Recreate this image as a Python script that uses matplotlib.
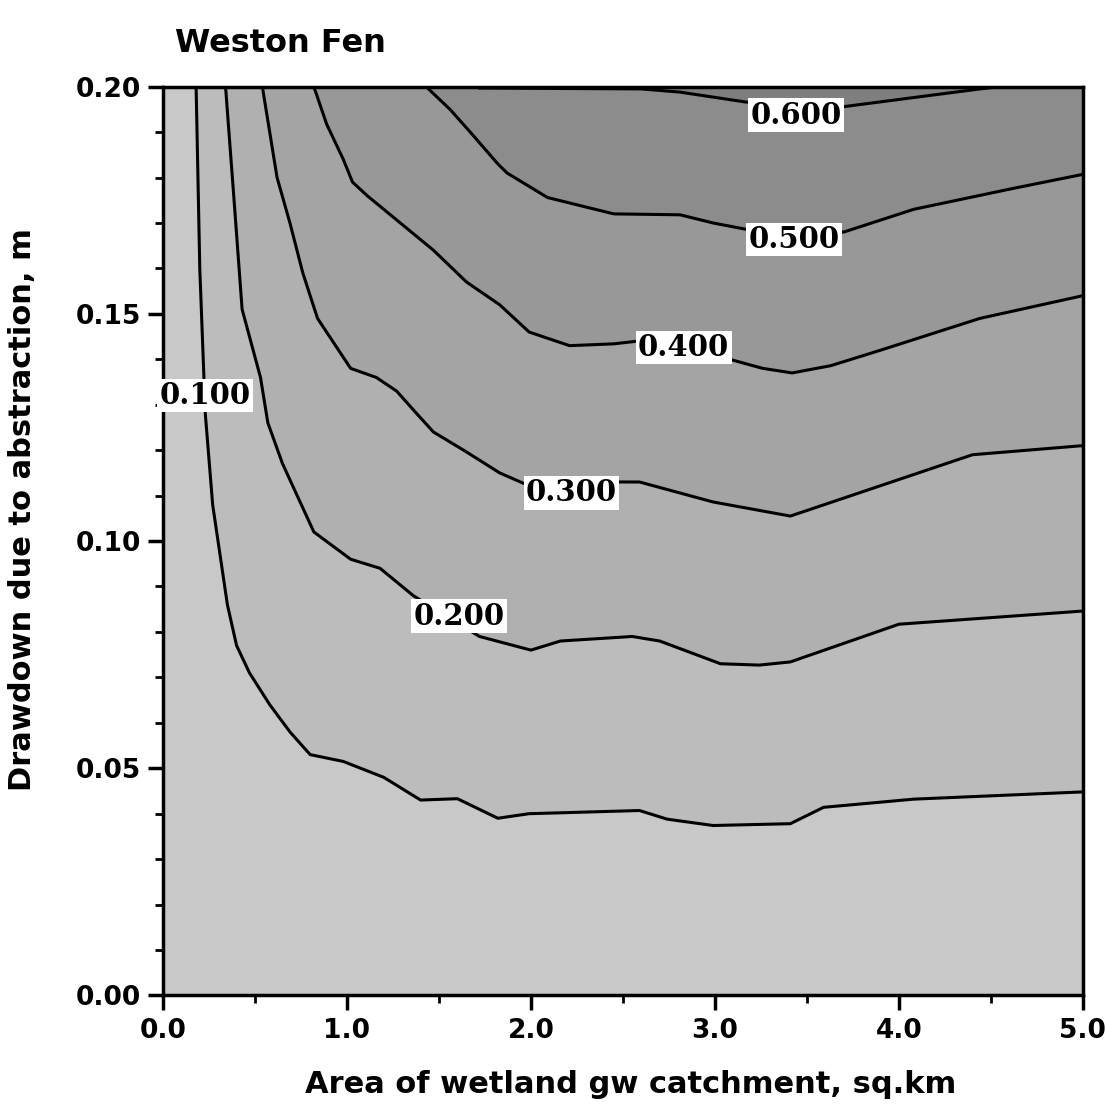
import matplotlib.pyplot as plt
from matplotlib.ticker import MultipleLocator, FormatStrFormatter

# contour levels and their labels
levels = [0.1, 0.2, 0.3, 0.4, 0.5, 0.6]
level_text = ['0.100', '0.200', '0.300', '0.400', '0.500', '0.600']

# contour lines (area sq.km, drawdown m)
c100_x = [0.18, 0.20, 0.23, 0.27, 0.35, 0.40, 0.47, 0.58, 0.69, 0.80, 0.98, 1.20, 1.40, 1.60,
          1.82, 1.99, 2.59, 2.74, 2.99, 3.41, 3.59, 4.08, 5.0]
c100_y = [0.200, 0.160, 0.128, 0.108, 0.086, 0.077, 0.071, 0.064, 0.058, 0.053, 0.0515, 0.048,
          0.043, 0.0433, 0.039, 0.040, 0.0407, 0.0388, 0.0374, 0.0378, 0.0414, 0.0432, 0.0448]

c200_x = [0.34, 0.39, 0.43, 0.53, 0.57, 0.65, 0.82, 1.02, 1.18, 1.36, 1.72, 2.0, 2.16, 2.55,
          2.70, 3.03, 3.24, 3.41, 4.0, 5.0]
c200_y = [0.200, 0.173, 0.151, 0.136, 0.126, 0.117, 0.102, 0.096, 0.094, 0.088, 0.079, 0.076,
          0.078, 0.079, 0.078, 0.073, 0.0727, 0.0734, 0.0817, 0.0846]

c300_x = [0.54, 0.62, 0.69, 0.76, 0.84, 1.02, 1.16, 1.27, 1.38, 1.47, 1.65, 1.83, 1.96, 2.47,
          2.59, 2.99, 3.41, 4.40, 5.0]
c300_y = [0.200, 0.180, 0.170, 0.159, 0.149, 0.138, 0.136, 0.133, 0.128, 0.124, 0.1196, 0.115,
          0.1127, 0.113, 0.113, 0.1086, 0.1055, 0.119, 0.121]

c400_x = [0.82, 0.89, 0.98, 1.03, 1.11, 1.29, 1.47, 1.65, 1.83, 1.99, 2.21, 2.45, 2.58, 3.08,
          3.26, 3.42, 3.63, 3.90, 4.44, 5.0]
c400_y = [0.200, 0.1917, 0.184, 0.179, 0.176, 0.170, 0.164, 0.157, 0.152, 0.146, 0.143, 0.1434,
          0.144, 0.140, 0.138, 0.137, 0.1386, 0.142, 0.149, 0.154]

c500_x = [1.43, 1.56, 1.67, 1.82, 1.87, 2.09, 2.45, 2.81, 2.99, 3.17, 3.70, 4.08, 4.62, 5.0]
c500_y = [0.200, 0.195, 0.190, 0.183, 0.181, 0.1756, 0.172, 0.1718, 0.170, 0.1686, 0.168,
          0.173, 0.1776, 0.1807]

c600_x = [1.72, 2.60, 2.81, 2.99, 3.17, 3.70, 4.08, 4.44, 4.55]
c600_y = [0.1997, 0.1995, 0.1988, 0.1977, 0.1966, 0.1956, 0.1976, 0.1995, 0.200]

# where the inline labels sit
label_x = [0.23, 1.61, 2.22, 2.83, 3.43, 3.44]
label_y = [0.132, 0.0835, 0.1106, 0.1426, 0.1664, 0.1937]

lines_x = [c100_x, c200_x, c300_x, c400_x, c500_x, c600_x]
lines_y = [c100_y, c200_y, c300_y, c400_y, c500_y, c600_y]

# stippled bands, approximated with flat greys (lightest = below 0.1)
band_colors = ['#c8c8c8', '#bcbcbc', '#b0b0b0', '#a4a4a4', '#989898', '#8c8c8c', '#7f7f7f']

plt.rcParams['font.family'] = 'DejaVu Sans'
plt.rcParams['font.weight'] = 'bold'

fig = plt.figure(figsize=(11.05, 11.11), dpi=100)
ax = fig.add_axes([0.1475, 0.104, 0.8325, 0.818])
ax.set_xlim(0, 5.0)
ax.set_ylim(0, 0.2)
ax.set_facecolor(band_colors[0])

# fill the region above/right of each contour, darker as level rises
for xs, ys, col in zip(lines_x, lines_y, band_colors[1:]):
    ax.fill(list(xs) + [5.0], list(ys) + [0.2], color=col, lw=0, zorder=1)

for xs, ys in zip(lines_x, lines_y):
    ax.plot(xs, ys, color='black', lw=2.2, zorder=2, solid_joinstyle='round')

for lx, ly, txt in zip(label_x, label_y, level_text):
    ax.text(lx, ly, txt, ha='center', va='center', fontsize=21, fontweight='bold',
            family='DejaVu Serif', zorder=5, clip_on=False,
            bbox=dict(boxstyle='square,pad=0.08', fc='white', ec='none'))

for s in ax.spines.values():
    s.set_linewidth(2.5)

ax.xaxis.set_major_locator(MultipleLocator(1.0))
ax.xaxis.set_minor_locator(MultipleLocator(0.5))
ax.yaxis.set_major_locator(MultipleLocator(0.05))
ax.yaxis.set_minor_locator(MultipleLocator(0.01))
ax.xaxis.set_major_formatter(FormatStrFormatter('%.1f'))
ax.yaxis.set_major_formatter(FormatStrFormatter('%.2f'))
ax.tick_params(which='major', direction='out', length=11, width=2.5, labelsize=19, pad=5)
ax.tick_params(which='minor', direction='out', length=6, width=2.0)
for t in ax.get_xticklabels() + ax.get_yticklabels():
    t.set_fontweight('bold')

fig.text(0.158, 0.961, 'Weston Fen', fontsize=23, fontweight='bold', ha='left', va='center')
fig.text(0.571, 0.024, 'Area of wetland gw catchment, sq.km', fontsize=22, fontweight='bold',
         ha='center', va='center')
fig.text(0.02, 0.541, 'Drawdown due to abstraction, m', fontsize=22, fontweight='bold',
         ha='center', va='center', rotation=90)

fig.savefig('out.png', dpi=100)
